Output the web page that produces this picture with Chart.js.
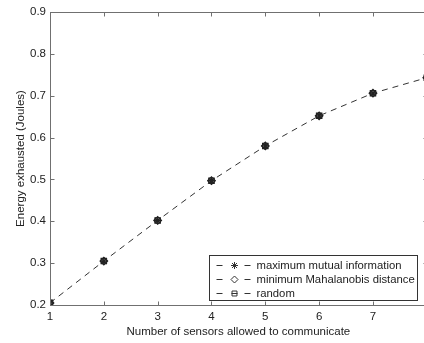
<!DOCTYPE html>
<html>
<head>
<meta charset="utf-8">
<script src="https://cdn.jsdelivr.net/npm/chart.js@4.4.0/dist/chart.umd.min.js"></script>
<style>
  html, body { margin: 0; padding: 0; overflow: hidden; background: #fff; }
  #wrap { width: 435px; height: 343px; }
</style>
</head>
<body>
<div id="wrap"><canvas id="myChart"></canvas></div>
<script>
// number of sensors on the x axis
var sensors = [1, 2, 3, 4, 5, 6, 7, 8];
// energy (Joules) for each selection rule
var mutualInfo  = [0.205, 0.305, 0.402, 0.497, 0.580, 0.652, 0.706, 0.743];
var mahalanobis = [0.205, 0.305, 0.402, 0.497, 0.580, 0.652, 0.706, 0.743];
var randomSel   = [0.205, 0.305, 0.402, 0.497, 0.580, 0.652, 0.706, 0.743];
var yTicks = [0.2, 0.3, 0.4, 0.5, 0.6, 0.7, 0.8, 0.9];
var legendNames = ['maximum mutual information', 'minimum Mahalanobis distance', 'random'];

var FONT = 'Liberation Sans, Arial, Helvetica, sans-serif';
var inkColor = '#222';
var frameColor = '#707070';

function toPoints(vals) {
  return vals.map(function (v, i) { return { x: sensors[i], y: v }; });
}

// matlab style box with inward ticks on all four sides
var boxPlugin = {
  id: 'boxPlugin',
  afterDatasetsDraw: function (chart) {
    var c = chart.ctx, a = chart.chartArea;
    var xs = chart.scales.x, ys = chart.scales.y;
    var L = Math.round(a.left) + 0.5, R = Math.round(a.right) + 0.5;
    var T = Math.round(a.top) + 0.5, B = Math.round(a.bottom) + 0.5;
    c.save();
    c.strokeStyle = frameColor;
    c.lineWidth = 1;
    c.setLineDash([]);
    c.strokeRect(L, T, R - L, B - T);
    c.beginPath();
    sensors.forEach(function (v) {
      var px = Math.round(xs.getPixelForValue(v)) + 0.5;
      c.moveTo(px, B); c.lineTo(px, B - 4);
      c.moveTo(px, T); c.lineTo(px, T + 4);
    });
    yTicks.forEach(function (v) {
      var py = Math.round(ys.getPixelForValue(v)) + 0.5;
      c.moveTo(L, py); c.lineTo(L + 4, py);
      c.moveTo(R, py); c.lineTo(R - 4, py);
    });
    c.stroke();
    c.restore();
  },
  afterDraw: function (chart) {
    var c = chart.ctx, a = chart.chartArea;
    var w = 208, h = 45;
    var left = Math.round(a.right - 10 - w) + 0.5;
    var top = Math.round(a.bottom - 5 - h) + 0.5;
    c.save();
    c.fillStyle = '#fff';
    c.fillRect(left, top, w, h);
    c.strokeStyle = '#333';
    c.lineWidth = 1;
    c.strokeRect(left, top, w, h);
    var styles = ['star', 'rectRot', 'rect'];
    var rows = [9, 23.5, 37.5];
    c.font = '11.3px ' + FONT;
    c.textBaseline = 'middle';
    c.textAlign = 'left';
    legendNames.forEach(function (name, i) {
      var y = Math.round(top + rows[i]) + 0.5;
      c.strokeStyle = '#333';
      c.beginPath();
      c.moveTo(left + 7, y); c.lineTo(left + 13, y);
      c.moveTo(left + 35, y); c.lineTo(left + 41, y);
      c.stroke();
      c.fillStyle = '#fff';
      Chart.helpers.drawPoint(c, {
        pointStyle: styles[i], radius: 3.5, borderWidth: 1
      }, left + 25, y);
      if (styles[i] === 'rect') {
        c.beginPath();
        c.moveTo(left + 22, y); c.lineTo(left + 28, y);
        c.stroke();
      }
      c.fillStyle = inkColor;
      c.fillText(name, left + 47, y);
    });
    c.restore();
  }
};

var baseSet = {
  borderColor: '#333',
  pointBorderColor: '#222',
  pointBackgroundColor: 'rgba(0,0,0,0)',
  pointBorderWidth: 1.2,
  pointRadius: 3.8,
  borderWidth: 1,
  tension: 0
};

var ctx = document.getElementById('myChart').getContext('2d');
var lineChart = new Chart(ctx, {
  type: 'line',
  data: {
    datasets: [
      Object.assign({}, baseSet, { label: legendNames[0], data: toPoints(mutualInfo), pointStyle: 'star', borderDash: [6, 5] }),
      Object.assign({}, baseSet, { label: legendNames[1], data: toPoints(mahalanobis), pointStyle: 'rectRot', showLine: false }),
      Object.assign({}, baseSet, { label: legendNames[2], data: toPoints(randomSel), pointStyle: 'rect', showLine: false })
    ]
  },
  options: {
    responsive: true,
    maintainAspectRatio: false,
    animation: false,
    layout: { padding: { top: 12, right: 4, left: 0, bottom: 0 } },
    plugins: { legend: { display: false }, tooltip: { enabled: false } },
    scales: {
      x: {
        type: 'linear', min: 1, max: 8,
        afterFit: function (s) { s.height = 38; },
        afterBuildTicks: function (s) { s.ticks = sensors.map(function (v) { return { value: v }; }); },
        grid: { display: false, drawTicks: false },
        border: { display: false },
        ticks: { color: inkColor, padding: 5, font: { family: FONT, size: 11.5 } },
        title: { display: true, text: 'Number of sensors allowed to communicate', color: inkColor,
                 padding: { top: 4, bottom: 4 }, font: { family: FONT, size: 11.5 } }
      },
      y: {
        min: 0.2, max: 0.9,
        afterFit: function (s) { s.width = 50; },
        afterBuildTicks: function (s) { s.ticks = yTicks.map(function (v) { return { value: v }; }); },
        grid: { display: false, drawTicks: false },
        border: { display: false },
        ticks: { color: inkColor, padding: 4, font: { family: FONT, size: 11.5 },
                 callback: function (v) { return v.toFixed(1); } },
        title: { display: true, text: 'Energy exhausted (Joules)', color: inkColor,
                 padding: { top: 14, bottom: 0 }, font: { family: FONT, size: 11.5 } }
      }
    }
  },
  plugins: [boxPlugin]
});
</script>
</body>
</html>
